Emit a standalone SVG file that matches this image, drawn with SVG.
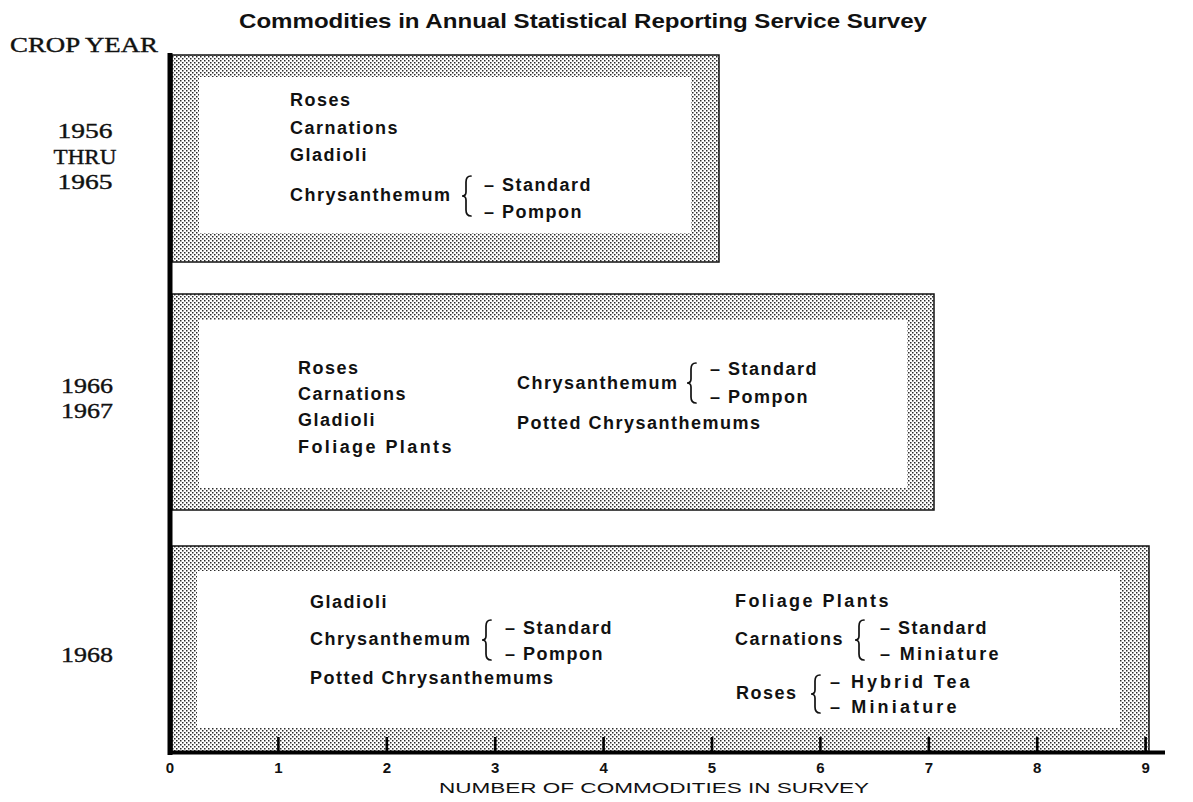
<svg xmlns="http://www.w3.org/2000/svg" width="1193" height="802" viewBox="0 0 1193 802">
<defs>
<pattern id="stip" width="4" height="4" patternUnits="userSpaceOnUse">
<rect width="4" height="4" fill="#ffffff"/>
<rect x="0" y="0" width="1.5" height="1.5" fill="#2a2a2a"/>
<rect x="2" y="2" width="1.5" height="1.5" fill="#2a2a2a"/>
</pattern>
</defs>
<style>
.outer{fill:url(#stip);stroke:#111;stroke-width:1.5}
.inner{fill:#fff;stroke:none}
.item{font-family:"Liberation Sans",Arial,sans-serif;font-weight:bold;font-size:18px;letter-spacing:1.5px;fill:#111}
.yr{font-family:"Liberation Serif","Times New Roman",serif;font-size:22px;fill:#111;stroke:#111;stroke-width:0.4;text-anchor:middle}
.title{font-family:"Liberation Sans",Arial,sans-serif;font-weight:bold;font-size:21px;fill:#111}
.num{font-family:"Liberation Sans",Arial,sans-serif;font-weight:bold;font-size:15px;fill:#111;text-anchor:middle}
.axl{font-family:"Liberation Sans",Arial,sans-serif;font-size:15px;fill:#111;text-anchor:middle}
.brace{fill:none;stroke:#111;stroke-width:1.7;stroke-linecap:round}
.axis{stroke:#000;fill:none}
</style>
<rect width="1193" height="802" fill="#fff"/>

<text class="title" x="239" y="28" textLength="688" lengthAdjust="spacingAndGlyphs">Commodities in Annual Statistical Reporting Service Survey</text>

<g id="labels">
<text class="yr" x="84" y="52" textLength="148" lengthAdjust="spacingAndGlyphs">CROP YEAR</text>
<text class="yr" x="85" y="138" textLength="55" lengthAdjust="spacingAndGlyphs">1956</text>
<text class="yr" x="85" y="164" textLength="63" lengthAdjust="spacingAndGlyphs">THRU</text>
<text class="yr" x="85" y="189" textLength="55" lengthAdjust="spacingAndGlyphs">1965</text>
<text class="yr" x="87" y="393" textLength="52" lengthAdjust="spacingAndGlyphs">1966</text>
<text class="yr" x="87" y="418" textLength="52" lengthAdjust="spacingAndGlyphs">1967</text>
<text class="yr" x="87" y="662" textLength="52" lengthAdjust="spacingAndGlyphs">1968</text>
</g>

<g id="box1956">
<rect class="outer" x="172" y="55" width="547" height="207"/>
<rect class="inner" x="199" y="77" width="492" height="156"/>
<text class="item" x="290" y="106">Roses</text>
<text class="item" x="290" y="134">Carnations</text>
<text class="item" x="290" y="161">Gladioli</text>
<text class="item" x="290" y="201">Chrysanthemum</text>
<path class="brace" d="M471 176 Q466 176 466 182 L466 192 Q466 196 462 196 Q466 196 466 200 L466 210 Q466 216 471 216"/>
<text class="item" x="484" y="191">– Standard</text>
<text class="item" x="484" y="218">– Pompon</text>
</g>

<g id="box1966">
<rect class="outer" x="172" y="294" width="762" height="216"/>
<rect class="inner" x="199" y="320" width="708" height="168"/>
<text class="item" x="298" y="374">Roses</text>
<text class="item" x="298" y="400">Carnations</text>
<text class="item" x="298" y="426">Gladioli</text>
<text class="item" x="298" y="453" textLength="155">Foliage Plants</text>
<text class="item" x="517" y="389">Chrysanthemum</text>
<path class="brace" d="M696 363 Q691 363 691 369 L691 379 Q691 383 687 383 Q691 383 691 387 L691 397 Q691 403 696 403"/>
<text class="item" x="710" y="375">– Standard</text>
<text class="item" x="710" y="403">– Pompon</text>
<text class="item" x="517" y="429">Potted Chrysanthemums</text>
</g>

<g id="box1968">
<rect class="outer" x="172" y="546" width="977" height="206"/>
<rect class="inner" x="197" y="571" width="923" height="157"/>
<text class="item" x="310" y="608">Gladioli</text>
<text class="item" x="310" y="645">Chrysanthemum</text>
<path class="brace" d="M491 620 Q486 620 486 626 L486 636 Q486 640 482 640 Q486 640 486 644 L486 654 Q486 660 491 660"/>
<text class="item" x="505" y="634">– Standard</text>
<text class="item" x="505" y="660">– Pompon</text>
<text class="item" x="310" y="684">Potted Chrysanthemums</text>
<text class="item" x="735" y="607" textLength="155">Foliage Plants</text>
<text class="item" x="735" y="645">Carnations</text>
<path class="brace" d="M864 620 Q859 620 859 626 L859 636 Q859 640 855 640 Q859 640 859 644 L859 654 Q859 660 864 660"/>
<text class="item" x="880" y="634">– Standard</text>
<text class="item" x="880" y="660" textLength="120">– Miniature</text>
<text class="item" x="736" y="699">Roses</text>
<path class="brace" d="M820 675 Q815 675 815 681 L815 690 Q815 694 811 694 Q815 694 815 698 L815 707 Q815 713 820 713"/>
<text class="item" x="830" y="688" textLength="141">– Hybrid Tea</text>
<text class="item" x="830" y="713" textLength="128">– Miniature</text>
</g>

<g id="axes">
<line class="axis" x1="170" y1="53" x2="170" y2="755" stroke-width="5"/>
<line class="axis" x1="168" y1="752.5" x2="1165" y2="752.5" stroke-width="4"/>
<g stroke="#000" stroke-width="2.6">
<line x1="278.4" y1="737" x2="278.4" y2="752"/>
<line x1="386.8" y1="737" x2="386.8" y2="752"/>
<line x1="495.2" y1="737" x2="495.2" y2="752"/>
<line x1="603.6" y1="737" x2="603.6" y2="752"/>
<line x1="712" y1="737" x2="712" y2="752"/>
<line x1="820.4" y1="737" x2="820.4" y2="752"/>
<line x1="928.8" y1="737" x2="928.8" y2="752"/>
<line x1="1037.2" y1="737" x2="1037.2" y2="752"/>
<line x1="1145.6" y1="737" x2="1145.6" y2="752"/>
</g>
<text class="num" x="170" y="773">0</text>
<text class="num" x="278.4" y="773">1</text>
<text class="num" x="386.8" y="773">2</text>
<text class="num" x="495.2" y="773">3</text>
<text class="num" x="603.6" y="773">4</text>
<text class="num" x="712" y="773">5</text>
<text class="num" x="820.4" y="773">6</text>
<text class="num" x="928.8" y="773">7</text>
<text class="num" x="1037.2" y="773">8</text>
<text class="num" x="1145.6" y="773">9</text>
<text class="axl" x="654" y="793" textLength="430" lengthAdjust="spacingAndGlyphs">NUMBER OF COMMODITIES IN SURVEY</text>
</g>
</svg>
